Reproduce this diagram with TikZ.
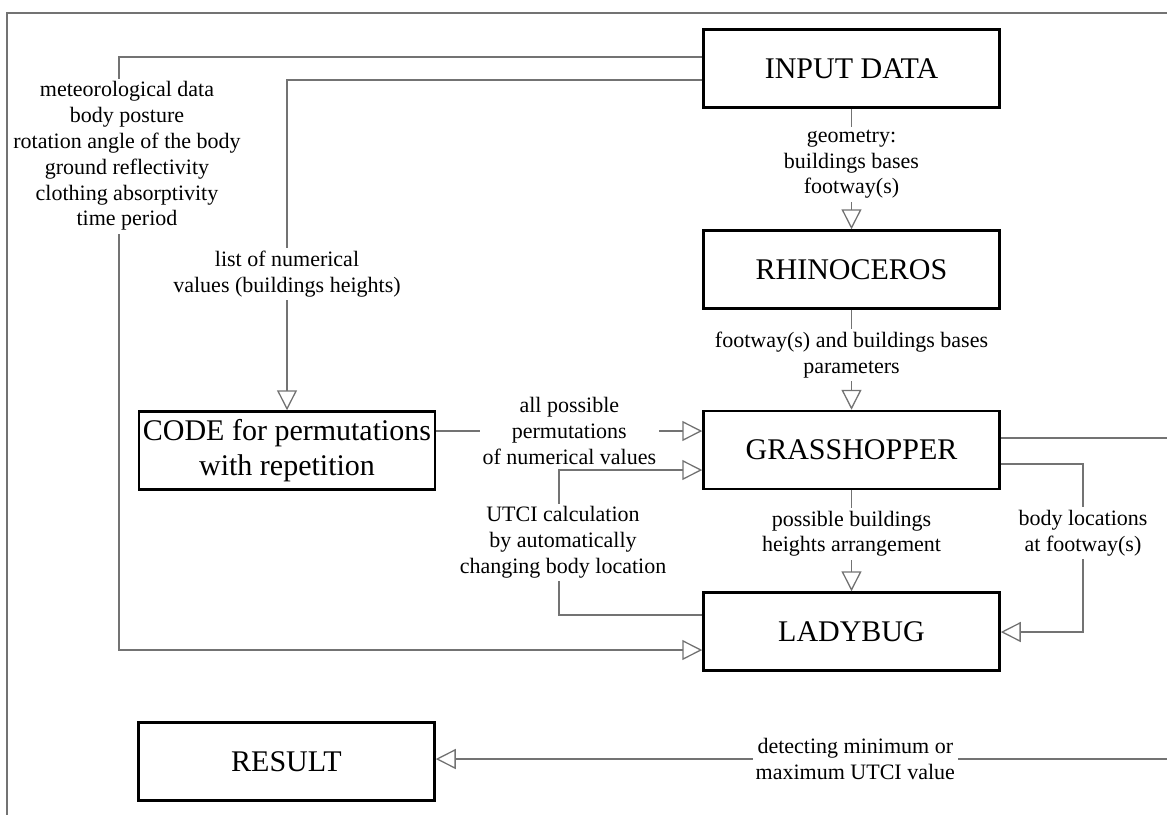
\documentclass[tikz,border=0pt]{standalone}
\usepackage{fontspec}
\setmainfont{Liberation Serif}
\usetikzlibrary{arrows.meta,calc}
\definecolor{wire}{RGB}{115,115,115}
\tikzset{box/.style={draw=black,line width=1.25pt,minimum width=148pt,minimum height=39pt,inner sep=2pt,align=center,font=\fontsize{15}{17.5}\selectfont},
  flow/.style={-{Triangle[open,length=10pt,width=10pt]},line width=0.65pt,wire},
  frame/.style={line width=0.65pt,wire},
  labeltext/.style={font=\fontsize{11}{12.9}\selectfont,text=black,align=center,fill=white,inner sep=1.5pt}}

\begin{document}
\begin{tikzpicture}[x=0.5pt,y=-0.5pt]
\useasboundingbox (0,0) rectangle (1167,814);
\draw[frame] (7,830) -- (7,13) -- (1185,13);
% program blocks
\node[box] (input) at (851.5,68.5) {INPUT DATA};
\node[box] (rhino) at (851.5,269.5) {RHINOCEROS};
\node[box] (grass) at (851.5,450) {GRASSHOPPER};
\node[box] (lady) at (851.5,631.5) {LADYBUG};
\node[box] (code) at (287,450.5) {CODE for permutations\\with repetition};
\node[box] (result) at (286.5,761.5) {RESULT};
% data flow
\draw[flow] ($(input.west)+(0,-11.5)$) -- (119,57)
  -- node[labeltext,pos=0.167,xshift=4pt] {meteorological data\\body posture\\rotation angle of the body\\ground reflectivity\\clothing absorptivity\\time period} (119,650)
  -- ($(lady.west)+(0,18.5)$);
\draw[flow] ($(input.west)+(0,11.5)$) -- (287,80)
  -- node[labeltext,pos=0.587] {list of numerical\\values (buildings heights)} (code.north);
\draw[flow] (input.south) -- node[labeltext,pos=0.46] {geometry:\\buildings bases\\footway(s)} (rhino.north);
\draw[flow] (rhino.south) -- node[labeltext,pos=0.45] {footway(s) and buildings bases\\parameters} (grass.north);
\draw[flow] ($(code.east)+(0,-19.5)$) -- node[labeltext,midway] {all possible\\permutations\\of numerical values} ($(grass.west)+(0,-19)$);
\draw[flow] ($(lady.west)+(0,-16.5)$) -- (559,615)
  -- node[labeltext,midway,xshift=2pt] {UTCI calculation\\by automatically\\changing body location} (559,470)
  -- ($(grass.west)+(0,20)$);
\draw[flow] (grass.south) -- node[labeltext,pos=0.43] {possible buildings\\heights arrangement} (lady.north);
\draw[flow] ($(grass.east)+(0,14)$) -- (1083,464)
  -- node[labeltext,pos=0.41] {body locations\\at footway(s)} (1083,632)
  -- ($(lady.east)+(0,0.5)$);
\draw[flow] ($(grass.east)+(0,-12)$) -- (1185,438) -- (1185,759)
  -- node[labeltext,pos=0.44] {detecting minimum or\\maximum UTCI value} ($(result.east)+(0,-2.5)$);
\end{tikzpicture}
\end{document}
